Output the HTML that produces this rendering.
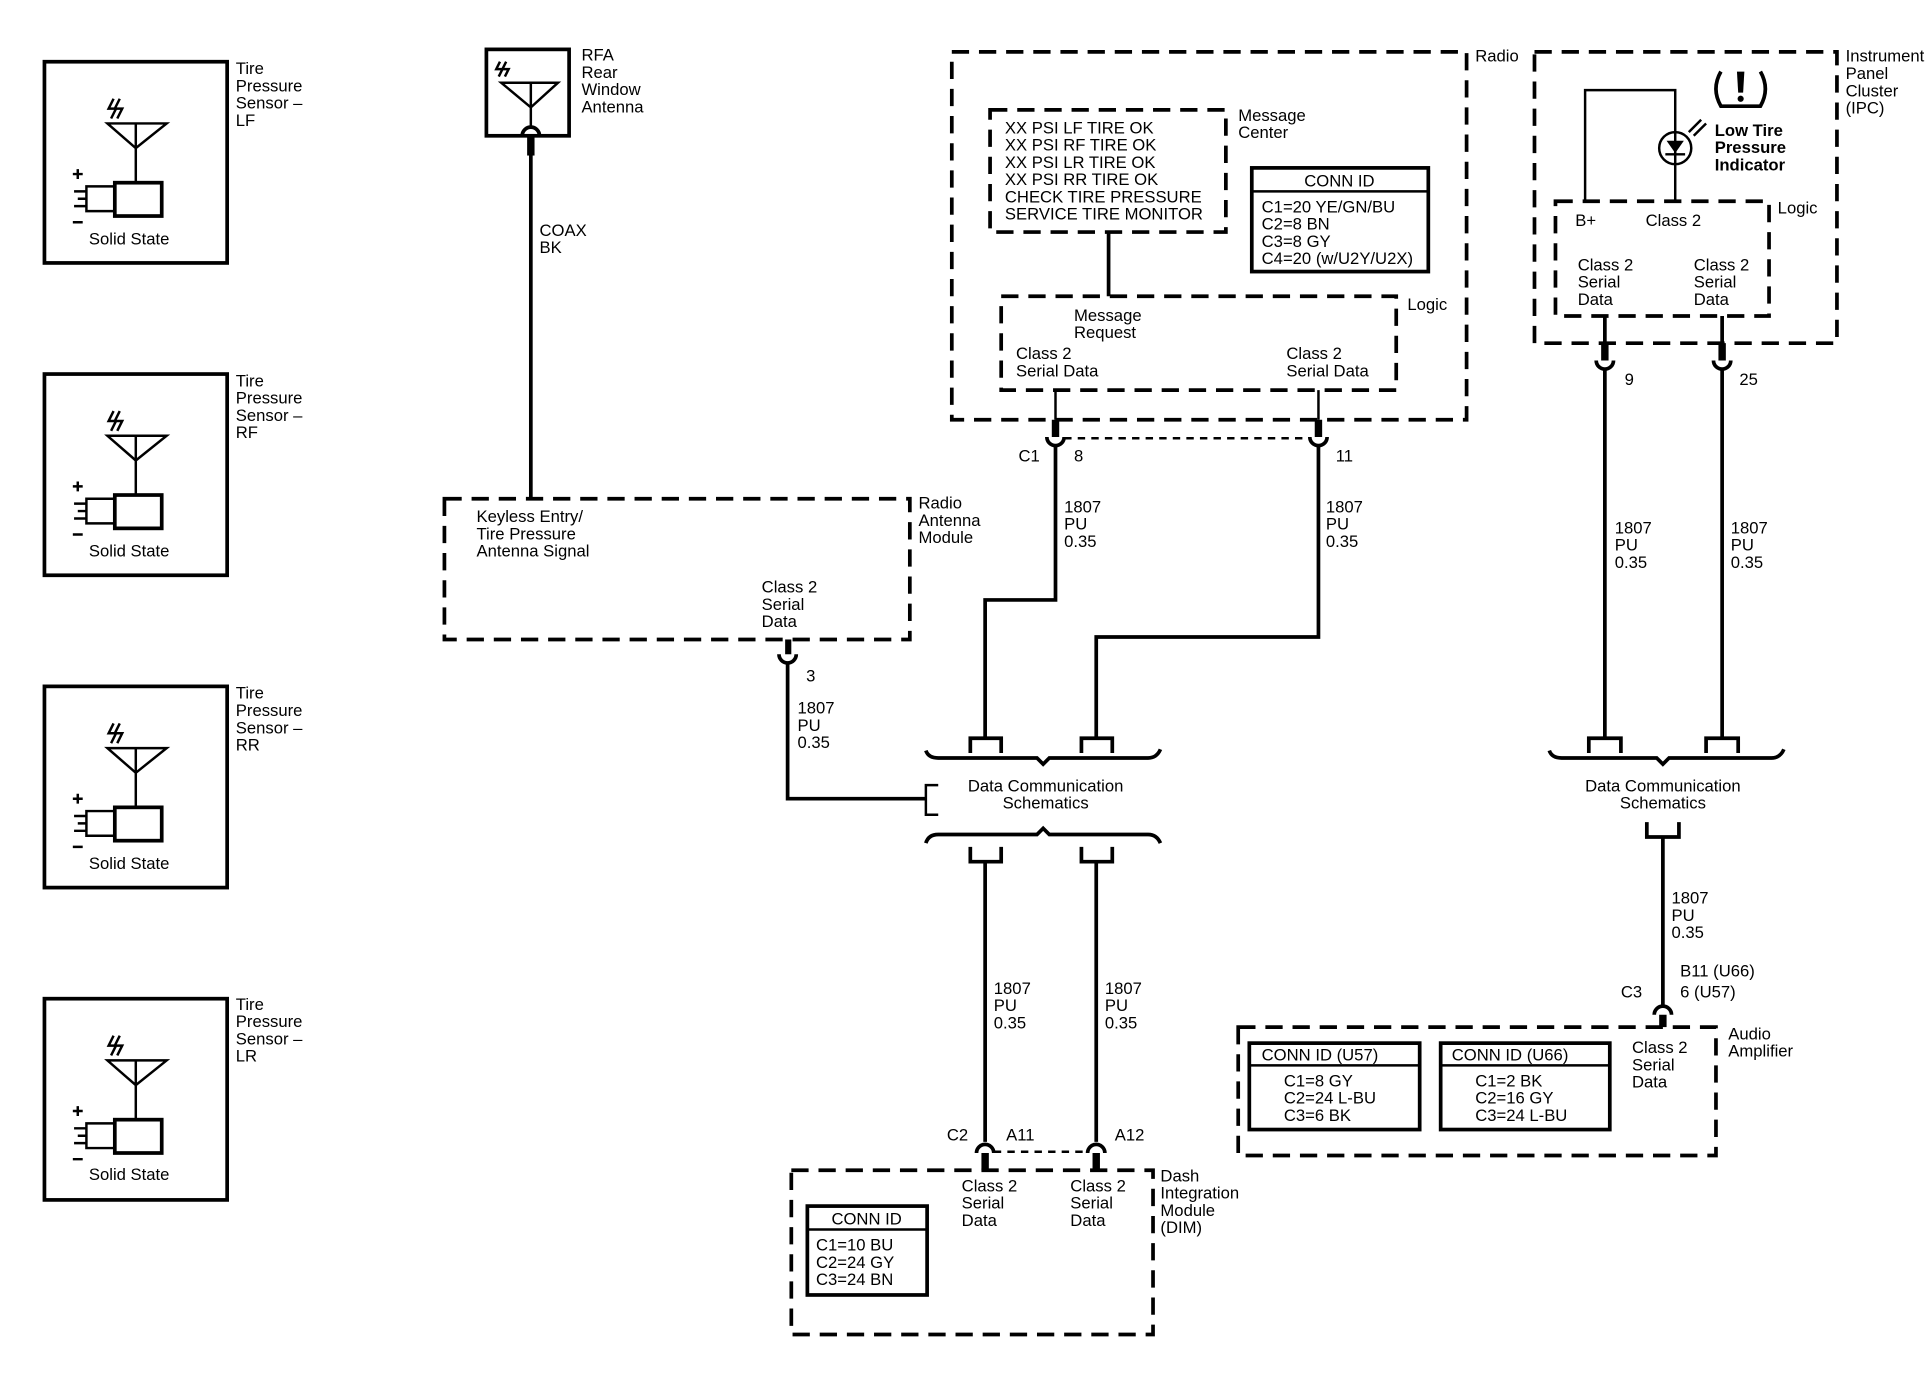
<!DOCTYPE html>
<html><head><meta charset="utf-8"><style>
html,body{margin:0;padding:0;background:#fff}
svg{display:block}
text{font-family:"Liberation Sans",sans-serif;font-size:13.5px;fill:#000}
.l{fill:none;stroke:#000;stroke-width:3}
.d{fill:none;stroke:#000;stroke-width:3;stroke-dasharray:14 8}
.t{fill:none;stroke:#000;stroke-width:2}
</style></head><body>
<svg width="1932" height="1392" viewBox="0 0 1565 1127.6" preserveAspectRatio="none" xmlns="http://www.w3.org/2000/svg">
<defs>
<g id="sens">
<rect class="l" x="36" y="50" width="148" height="163"/>
<path class="t" d="M87 100 L135 100 L110 120 Z M110 100 L110 148"/>
<path class="t" d="M92 80 L88 88 L94 88 L90 96 M97 80 L93 88 L99 88 L95 96"/>
<rect class="l" x="93" y="148" width="38" height="27"/>
<path class="t" d="M93 151 L70 151 L70 171 L93 171 M60 155 L70 155 M63 161 L70 161 M60 167 L70 167"/>
<path class="t" d="M59 141 L67 141 M63 137 L63 145 M59 180 L67 180"/>
</g>
<g id="cupd"><path class="l" d="M-7 0 A7 7 0 0 0 7 0"/></g>
</defs>

<!-- sensors -->
<use href="#sens"/>
<use href="#sens" y="253"/>
<use href="#sens" y="506"/>
<use href="#sens" y="759"/>
<g>
<text x="72" y="198">Solid State</text><text x="191" y="60">Tire</text><text x="191" y="74">Pressure</text><text x="191" y="88">Sensor –</text><text x="191" y="102">LF</text>
<text x="72" y="451">Solid State</text><text x="191" y="313">Tire</text><text x="191" y="327">Pressure</text><text x="191" y="341">Sensor –</text><text x="191" y="355">RF</text>
<text x="72" y="704">Solid State</text><text x="191" y="566">Tire</text><text x="191" y="580">Pressure</text><text x="191" y="594">Sensor –</text><text x="191" y="608">RR</text>
<text x="72" y="956">Solid State</text><text x="191" y="818">Tire</text><text x="191" y="832">Pressure</text><text x="191" y="846">Sensor –</text><text x="191" y="860">LR</text>
</g>

<!-- RFA antenna -->
<rect class="l" x="394" y="40" width="67" height="70"/>
<path class="t" d="M406 67 L452 67 L430 87 Z M430 67 L430 103"/>
<path class="t" d="M405 50 L402 56 L407 56 L404 62 M410 50 L407 56 L412 56 L409 62"/>
<path class="l" d="M423 110 A7 7 0 0 1 437 110"/>
<path class="l" d="M430 110 L430 403"/><path d="M427 110 h6 v16 h-6z"/>
<text x="471" y="49">RFA</text><text x="471" y="63">Rear</text><text x="471" y="77">Window</text><text x="471" y="91">Antenna</text>
<text x="437" y="191">COAX</text><text x="437" y="205">BK</text>

<!-- Radio Antenna Module -->
<rect class="d" x="360" y="404" width="377" height="114"/>
<text x="744" y="412">Radio</text><text x="744" y="426">Antenna</text><text x="744" y="440">Module</text>
<text x="386" y="423">Keyless Entry/</text><text x="386" y="437">Tire Pressure</text><text x="386" y="451">Antenna Signal</text>
<text x="617" y="480">Class 2</text><text x="617" y="494">Serial</text><text x="617" y="508">Data</text>
<path d="M636 518 h5 v12 h-5z"/>
<path class="l" d="M631 530 A7 7 0 0 0 645 530"/>
<path class="l" d="M638 537 L638 647 L750 647"/>
<text x="653" y="552">3</text>
<text x="646" y="578">1807</text><text x="646" y="592">PU</text><text x="646" y="606">0.35</text>
<path class="t" d="M760 636 L750 636 L750 660 L760 660"/>

<!-- Radio -->
<rect class="d" x="771" y="42" width="417" height="298"/>
<text x="1195" y="50">Radio</text>
<rect class="d" x="802" y="89" width="191" height="99"/>
<text x="1003" y="98">Message</text><text x="1003" y="112">Center</text>
<text x="814" y="108">XX PSI LF TIRE OK</text>
<text x="814" y="122">XX PSI RF TIRE OK</text>
<text x="814" y="136">XX PSI LR TIRE OK</text>
<text x="814" y="150">XX PSI RR TIRE OK</text>
<text x="814" y="164">CHECK TIRE PRESSURE</text>
<text x="814" y="178">SERVICE TIRE MONITOR</text>
<rect class="l" x="1014" y="136" width="143" height="84"/>
<path class="t" d="M1014 155 L1157 155"/>
<text x="1085" y="151" text-anchor="middle">CONN ID</text>
<text x="1022" y="172">C1=20 YE/GN/BU</text><text x="1022" y="186">C2=8 BN</text><text x="1022" y="200">C3=8 GY</text><text x="1022" y="214">C4=20 (w/U2Y/U2X)</text>
<path class="l" d="M898 188 L898 240"/>
<rect class="d" x="811" y="240" width="320" height="76"/>
<text x="1140" y="251">Logic</text>
<text x="870" y="260">Message</text><text x="870" y="274">Request</text>
<text x="823" y="291">Class 2</text><text x="823" y="305">Serial Data</text>
<text x="1042" y="291">Class 2</text><text x="1042" y="305">Serial Data</text>
<path class="t" d="M855 316 L855 340 M1068 316 L1068 340"/>
<path d="M852 340 h6 v14 h-6z M1065 340 h6 v14 h-6z"/>
<path class="l" d="M848 354 A7 7 0 0 0 862 354 M1061 354 A7 7 0 0 0 1075 354"/>
<path class="t" d="M862 355 L1061 355" stroke-dasharray="6 5"/>
<text x="825" y="374">C1</text><text x="870" y="374">8</text><text x="1082" y="374">11</text>
<path class="l" d="M855 361 L855 486 L798 486 L798 598"/>
<path class="l" d="M1068 361 L1068 516 L888 516 L888 598"/>
<text x="862" y="415">1807</text><text x="862" y="429">PU</text><text x="862" y="443">0.35</text>
<text x="1074" y="415">1807</text><text x="1074" y="429">PU</text><text x="1074" y="443">0.35</text>

<!-- Data comm 1 -->
<path class="l" d="M786 610 L786 598 L811 598 L811 610 M876 610 L876 598 L901 598 L901 610"/>
<path class="l" d="M750 608 Q752 614 760 614 L840 614 L845 619 L850 614 L930 614 Q937 614 940 607"/>
<text x="847" y="641" text-anchor="middle">Data Communication</text>
<text x="847" y="655" text-anchor="middle">Schematics</text>
<path class="l" d="M750 683 Q752 676 760 676 L840 676 L845 671 L850 676 L930 676 Q937 676 940 683"/>
<path class="l" d="M786 686 L786 698 L811 698 L811 686 M876 686 L876 698 L901 698 L901 686"/>
<path class="l" d="M798 698 L798 925 M888 698 L888 925"/>
<text x="805" y="805">1807</text><text x="805" y="819">PU</text><text x="805" y="833">0.35</text>
<text x="895" y="805">1807</text><text x="895" y="819">PU</text><text x="895" y="833">0.35</text>
<text x="767" y="924">C2</text><text x="815" y="924">A11</text><text x="903" y="924">A12</text>
<path class="l" d="M791 934 A7 7 0 0 1 805 934 M881 934 A7 7 0 0 1 895 934"/>
<path d="M795 934 h6 v14 h-6z M885 934 h6 v14 h-6z"/>
<path class="t" d="M805 933 L881 933" stroke-dasharray="6 5"/>

<!-- DIM -->
<rect class="d" x="641" y="948" width="293" height="133"/>
<text x="940" y="957">Dash</text><text x="940" y="971">Integration</text><text x="940" y="985">Module</text><text x="940" y="999">(DIM)</text>
<rect class="l" x="654" y="977" width="97" height="72"/>
<path class="t" d="M654 996 L751 996"/>
<text x="702" y="992" text-anchor="middle">CONN ID</text>
<text x="661" y="1013">C1=10 BU</text><text x="661" y="1027">C2=24 GY</text><text x="661" y="1041">C3=24 BN</text>
<text x="779" y="965">Class 2</text><text x="779" y="979">Serial</text><text x="779" y="993">Data</text>
<text x="867" y="965">Class 2</text><text x="867" y="979">Serial</text><text x="867" y="993">Data</text>

<!-- IPC -->
<rect class="d" x="1243" y="42" width="245" height="236"/>
<text x="1495" y="50">Instrument</text><text x="1495" y="64">Panel</text><text x="1495" y="78">Cluster</text><text x="1495" y="92">(IPC)</text>
<path class="l" d="M1394 58 Q1386 72 1394 86 L1426 86 Q1434 72 1426 58"/>
<path d="M1407 58 h6 l-1 17 h-4z"/><circle cx="1410" cy="80" r="2.5"/>
<path class="t" d="M1357 163 L1357 73 L1284 73 L1284 163"/>
<circle class="t" cx="1357" cy="120" r="13"/>
<path d="M1350 114 L1364 114 L1357 124 Z"/><path class="t" d="M1349 125 L1365 125"/>
<path class="t" d="M1368 107 L1378 97 M1372 110 L1382 100"/>
<text x="1389" y="110" style="font-weight:bold">Low Tire</text><text x="1389" y="124" style="font-weight:bold">Pressure</text><text x="1389" y="138" style="font-weight:bold">Indicator</text>
<rect class="d" x="1260" y="163" width="173" height="93"/>
<text x="1440" y="173">Logic</text>
<text x="1276" y="183">B+</text><text x="1333" y="183">Class 2</text>
<text x="1278" y="219">Class 2</text><text x="1278" y="233">Serial</text><text x="1278" y="247">Data</text>
<text x="1372" y="219">Class 2</text><text x="1372" y="233">Serial</text><text x="1372" y="247">Data</text>
<path d="M1297 278 h6 v14 h-6z M1392 278 h6 v14 h-6z"/>
<path class="l" d="M1293 292 A7 7 0 0 0 1307 292 M1388 292 A7 7 0 0 0 1402 292"/>
<path class="l" d="M1300 256 L1300 278 M1395 256 L1395 278 M1300 299 L1300 598 M1395 299 L1395 598"/>
<text x="1316" y="312">9</text><text x="1409" y="312">25</text>
<text x="1308" y="432">1807</text><text x="1308" y="446">PU</text><text x="1308" y="460">0.35</text>
<text x="1402" y="432">1807</text><text x="1402" y="446">PU</text><text x="1402" y="460">0.35</text>

<!-- Data comm 2 -->
<path class="l" d="M1287 610 L1287 598 L1313 598 L1313 610 M1382 610 L1382 598 L1408 598 L1408 610"/>
<path class="l" d="M1255 608 Q1257 614 1265 614 L1342 614 L1347 619 L1352 614 L1435 614 Q1442 614 1445 607"/>
<text x="1347" y="641" text-anchor="middle">Data Communication</text>
<text x="1347" y="655" text-anchor="middle">Schematics</text>
<path class="l" d="M1334 666 L1334 678 L1360 678 L1360 666 M1347 678 L1347 815"/>
<text x="1354" y="732">1807</text><text x="1354" y="746">PU</text><text x="1354" y="760">0.35</text>
<text x="1361" y="791">B11 (U66)</text><text x="1361" y="808">6 (U57)</text><text x="1313" y="808">C3</text>
<path class="l" d="M1340 822 A7 7 0 0 1 1354 822"/>
<path d="M1344 822 h6 v10 h-6z"/>

<!-- Audio amp -->
<rect class="d" x="1003" y="832" width="387" height="104"/>
<text x="1400" y="842">Audio</text><text x="1400" y="856">Amplifier</text>
<rect class="l" x="1012" y="845" width="138" height="70"/>
<path class="t" d="M1012 863 L1150 863"/>
<text x="1022" y="859">CONN ID (U57)</text>
<text x="1040" y="880">C1=8 GY</text><text x="1040" y="894">C2=24 L-BU</text><text x="1040" y="908">C3=6 BK</text>
<rect class="l" x="1167" y="845" width="137" height="70"/>
<path class="t" d="M1167 863 L1304 863"/>
<text x="1176" y="859">CONN ID (U66)</text>
<text x="1195" y="880">C1=2 BK</text><text x="1195" y="894">C2=16 GY</text><text x="1195" y="908">C3=24 L-BU</text>
<text x="1322" y="853">Class 2</text><text x="1322" y="867">Serial</text><text x="1322" y="881">Data</text>
</svg>
</body></html>
